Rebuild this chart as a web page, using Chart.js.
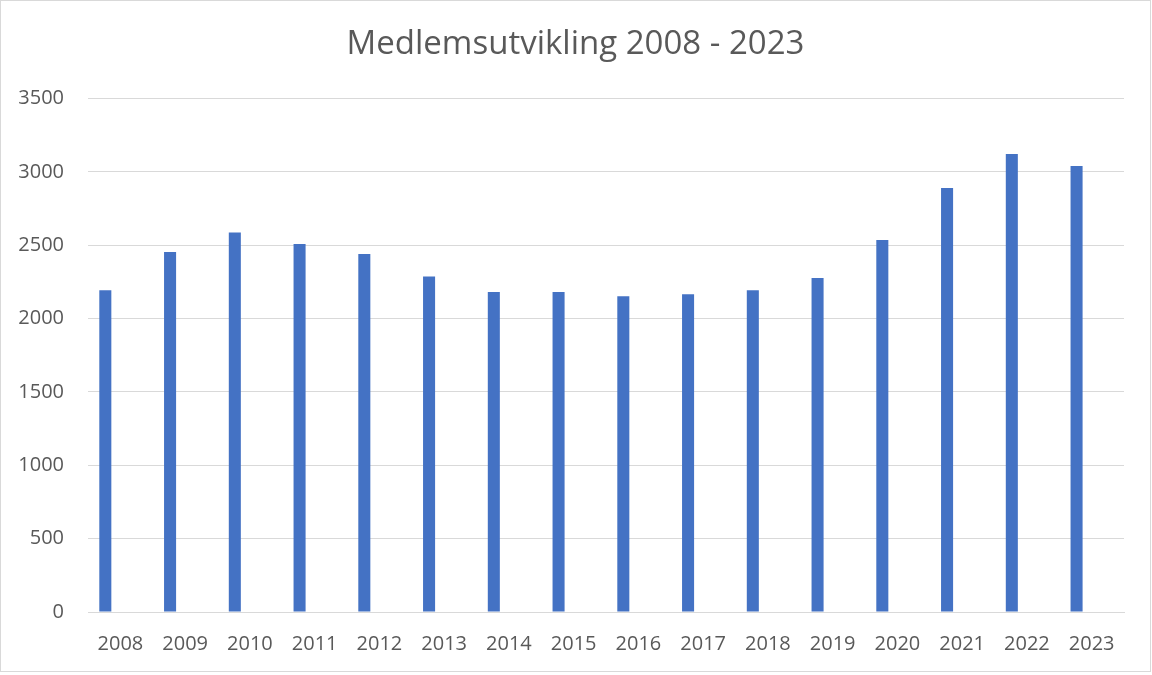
<!DOCTYPE html>
<html>
<head>
<meta charset="utf-8">
<script src="https://cdn.jsdelivr.net/npm/chart.js@4.4.1/dist/chart.umd.min.js"></script>
<style>
    html, body { margin: 0; padding: 0; background: #fff; }
    #wrap {
        width: 1151px;
        height: 672px;
        box-sizing: border-box;
        border: 1px solid #d9d9d9;
        position: relative;
    }
</style>
</head>
<body>
<div id="wrap"><canvas id="membersChart"></canvas></div>
<script>
// Data
const years = ['2008', '2009', '2010', '2011', '2012', '2013', '2014', '2015',
               '2016', '2017', '2018', '2019', '2020', '2021', '2022', '2023'];
const members = [2193, 2454, 2588, 2509, 2441, 2288, 2182, 2182,
                 2152, 2166, 2193, 2277, 2536, 2891, 3123, 3041];
const yMax = 3500;
const yStep = 500;

const textColor = '#595959';
const gridColor = '#d9d9d9';
const barColor = '#4472c4';

const ctx = document.getElementById('membersChart');
new Chart(ctx, {
    type: 'bar',
    data: {
        labels: years,
        datasets: [{
            label: 'Medlemmer',
            data: members,
            backgroundColor: barColor,
            barPercentage: 0.4,
            categoryPercentage: 0.93
        }, {
            // empty second series, keeps the bars left of the category centre like in the original
            label: '',
            data: [],
            backgroundColor: 'rgba(0,0,0,0)',
            barPercentage: 0.4,
            categoryPercentage: 0.93
        }]
    },
    options: {
        responsive: true,
        maintainAspectRatio: false,
        animation: false,
        layout: {
            padding: 0
        },
        plugins: {
            legend: { display: false },
            tooltip: { enabled: false },
            title: {
                display: true,
                text: 'Medlemsutvikling 2008 - 2023',
                color: textColor,
                font: { family: 'Open Sans', size: 33, weight: 'normal' },
                padding: { top: 24, bottom: 34 }
            }
        },
        scales: {
            x: {
                grid: { display: false, drawTicks: false },
                border: { display: true, color: gridColor, width: 1 },
                ticks: {
                    color: textColor,
                    font: { family: 'Open Sans', size: 20 },
                    padding: 20,
                    maxRotation: 0,
                    autoSkip: false
                },
                afterFit: (scale) => { scale.height = 59; }
            },
            y: {
                min: 0,
                max: yMax,
                grid: { color: gridColor, lineWidth: 1, drawTicks: false },
                border: { display: false },
                ticks: {
                    stepSize: yStep,
                    color: textColor,
                    font: { family: 'Open Sans', size: 20 },
                    padding: 24,
                    callback: (value) => String(value)
                },
                afterFit: (scale) => { scale.width = 87; }
            },
            // blank strip on the right so the plot ends where the original does
            rightGap: {
                position: 'right',
                grid: { display: false, drawTicks: false },
                border: { display: false },
                ticks: { display: false },
                afterFit: (scale) => { scale.width = 26; }
            }
        }
    }
});
</script>
</body>
</html>
